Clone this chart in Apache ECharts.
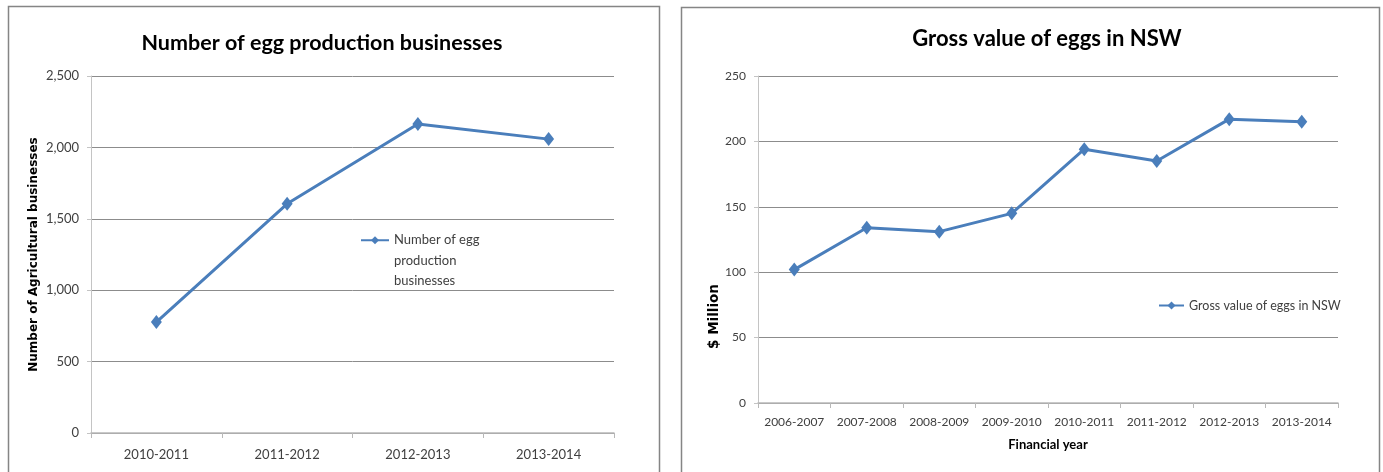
<!DOCTYPE html>
<html>
<head>
<meta charset="utf-8">
<script src="https://cdn.jsdelivr.net/npm/echarts@6/dist/echarts.min.js"></script>
<style>
  html, body { margin: 0; padding: 0; background: #fff; }
  #chart { width: 1383px; height: 472px; }
</style>
</head>
<body>
<div id="chart"></div>
<script>
// Egg production businesses by financial year
const businessYears = ['2010-2011', '2011-2012', '2012-2013', '2013-2014'];
const businessCounts = [777, 1605, 2164, 2058];

// Gross value of eggs in NSW ($ million) by financial year
const valueYears = ['2006-2007', '2007-2008', '2008-2009', '2009-2010', '2010-2011', '2011-2012', '2012-2013', '2013-2014'];
const grossValues = [102, 134, 131, 145, 194, 185, 217, 215];

const leftTitle = 'Number of egg production businesses';
const rightTitle = 'Gross value of eggs in NSW';

const narrow = 'Lato, "Liberation Sans", sans-serif';
const wide = '"DejaVu Sans", Verdana, sans-serif';
const lineBlue = '#4A7EBB';
const textGrey = '#404040';

function valueAxis(gridIndex, max, step, fmt, name, nameGap, nameSize, namePad, labelSize) {
  return {
    type: 'value', gridIndex, min: 0, max, interval: step,
    name, nameLocation: 'middle', nameGap, nameRotate: 90,
    nameTextStyle: { fontFamily: wide, fontWeight: 'bold', fontSize: nameSize, color: '#000', padding: namePad },
    axisLine: { show: true, lineStyle: { color: '#c4c4c4', width: 1 } },
    axisTick: { show: true, length: 4, lineStyle: { color: '#c4c4c4' } },
    axisLabel: { fontFamily: narrow, fontSize: labelSize, color: textGrey, margin: 12, formatter: fmt },
    splitLine: { show: true, lineStyle: { color: '#8c8c8c', width: 1 } }
  };
}

function catAxis(gridIndex, data, labelSize, labelMargin, name) {
  return {
    type: 'category', gridIndex, data, boundaryGap: true,
    name: name || '', nameLocation: 'middle', nameGap: 35,
    nameTextStyle: { fontFamily: narrow, fontWeight: 'bold', fontSize: 13, color: '#000' },
    axisLine: { show: true, lineStyle: { color: '#b8b8b8', width: 1.5 } },
    axisTick: { show: true, length: 5, alignWithLabel: false, lineStyle: { color: '#b8b8b8' } },
    axisLabel: { fontFamily: narrow, fontSize: labelSize, color: textGrey, margin: labelMargin, interval: 0 }
  };
}

function lineSeries(name, idx, data) {
  return {
    name, type: 'line', xAxisIndex: idx, yAxisIndex: idx, data,
    symbol: 'diamond', symbolSize: [11, 14],
    lineStyle: { color: lineBlue, width: 3 },
    itemStyle: { color: lineBlue },
    animation: false
  };
}

const chart = echarts.init(document.getElementById('chart'), null, { renderer: 'canvas' });

chart.setOption({
  backgroundColor: '#fff',
  animation: false,
  title: [
    { text: leftTitle, left: 317, top: 27, textAlign: 'center',
      textStyle: { fontFamily: narrow, fontWeight: 'bold', fontSize: 21.5, color: '#000' } },
    { text: rightTitle, left: 1042, top: 23, textAlign: 'center',
      textStyle: { fontFamily: narrow, fontWeight: 'bold', fontSize: 22, color: '#000' } }
  ],
  legend: [
    // two leading blank lines keep the marker level with the first text line
    { data: [leftTitle], left: 360, top: 189, padding: 0, itemWidth: 28, itemHeight: 10,
      formatter: () => '\n\nNumber of egg\nproduction\nbusinesses',
      textStyle: { fontFamily: narrow, fontSize: 13, color: textGrey, lineHeight: 20.5 } },
    { data: [rightTitle], left: 1158, top: 299, padding: 0, itemWidth: 25, itemHeight: 10,
      textStyle: { fontFamily: narrow, fontSize: 12.5, color: textGrey } }
  ],
  grid: [
    { left: 91, right: 769, top: 76, bottom: 39 },
    { left: 758, right: 45, top: 76, bottom: 69 }
  ],
  xAxis: [
    catAxis(0, businessYears, 13, 15),
    catAxis(1, valueYears, 12, 13, 'Financial year')
  ],
  yAxis: [
    valueAxis(0, 2500, 500, v => v.toLocaleString('en-US'), 'Number of Agricultural businesses', 51, 12, 0, 13),
    valueAxis(1, 250, 50, v => String(v), '$ Million', 31, 13.5, [0, 154, 0, 0], 12)
  ],
  series: [
    lineSeries(leftTitle, 0, businessCounts),
    lineSeries(rightTitle, 1, grossValues)
  ],
  graphic: [
    { type: 'rect', silent: true, z: -1,
      shape: { x: 8.5, y: 6.5, width: 651, height: 480 },
      style: { fill: 'none', stroke: '#858585', lineWidth: 1.5 } },
    { type: 'rect', silent: true, z: -1,
      shape: { x: 681.5, y: 7.5, width: 698, height: 480 },
      style: { fill: 'none', stroke: '#858585', lineWidth: 1.5 } }
  ]
});
</script>
</body>
</html>
